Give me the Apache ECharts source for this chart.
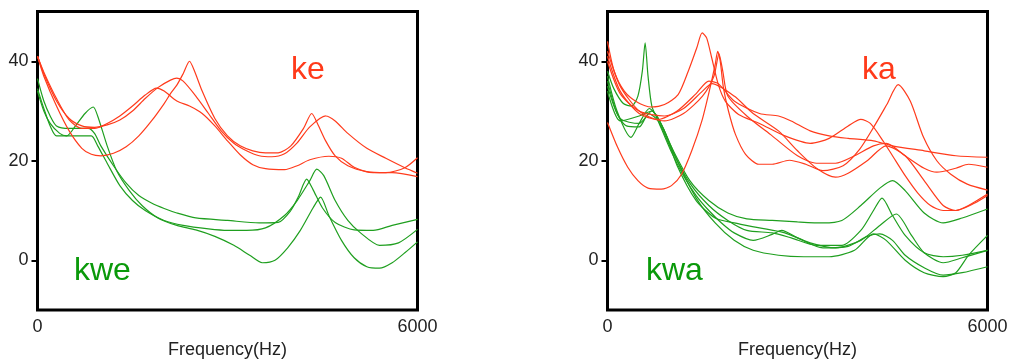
<!DOCTYPE html>
<html><head><meta charset="utf-8">
<script src="https://cdn.jsdelivr.net/npm/echarts@6/dist/echarts.min.js"></script>
<style>html,body{margin:0;padding:0;background:#fff}#c{width:1014px;height:362px}</style>
</head><body><div id="c"></div>
<script>
// Tick labels
const xTickValues = [0, 6000];
const yTickValues = [0, 20, 40];
const xAxisTitle = 'Frequency(Hz)';
const panelLabels = [['ke', 'kwe'], ['ka', 'kwa']];

// ---- left panel: ke (red) ----
const ke1 = [[0,41],[100,37],[300,31],[500,26],[700,22.5],[850,21.3],[1000,21],[1200,21.5],[1400,22.8],[1600,25],[1800,28],[2000,31.5],[2100,33.5],[2200,35.2],[2300,37.5],[2400,40],[2480,38],[2600,34],[2800,28.5],[3000,25],[3200,23],[3400,22],[3600,21.6],[3800,21.6],[4000,23],[4200,26.5],[4330,29.5],[4420,27.5],[4550,24],[4700,21],[4900,19],[5200,17.8],[5500,17.6],[5800,18.6],[6000,20.6]];
const ke2 = [[0,41],[100,37.5],[300,32],[500,28.5],[700,27],[900,26.7],[1100,27.2],[1300,28.2],[1500,30],[1700,32.5],[1900,34.7],[2100,36.2],[2200,36.6],[2300,36],[2500,33],[2700,29.5],[2900,26],[3100,23.5],[3300,22],[3500,21],[3700,20.8],[3900,21.4],[4100,23.6],[4300,26.8],[4550,29],[4700,28],[4900,25.5],[5200,22.5],[5500,20.5],[5800,18.6],[6000,17.5]];
const ke3 = [[0,41],[100,37.8],[300,32.5],[500,28.2],[700,26.5],[900,26.5],[1100,27.5],[1300,29],[1500,31],[1700,33.2],[1880,34.6],[2000,34],[2200,32],[2400,31],[2600,29.5],[2800,27],[3000,24],[3200,21.2],[3400,19.2],[3600,18.4],[3900,18.2],[4100,19],[4300,20.2],[4600,20.9],[4800,20.5],[5000,18.7],[5300,17.6],[5600,17.6],[6000,16.8]];
// ---- left panel: kwe (green) ----
const kwe1 = [[0,36.5],[100,32],[200,29],[300,27],[500,26.5],[800,26.5],[900,25.5],[1000,23],[1200,19],[1400,15.5],[1600,13],[1800,11.5],[2000,10.4],[2200,9.5],[2500,8.5],[3000,8],[3500,7.5],[3800,7.6],[4000,10],[4120,12.8],[4250,16.3],[4350,14.2],[4500,10.5],[4700,7.6],[5000,6.1],[5300,6],[5600,7],[6000,8.2]];
const kwe2 = [[0,34.5],[100,30.5],[200,27],[300,25],[600,25],[850,25],[950,23],[1100,19.5],[1300,15],[1500,12],[1700,10],[2000,8],[2300,7],[2700,6.3],[3000,6],[3300,6],[3600,6.5],[3900,9],[4100,12],[4300,16],[4410,18.3],[4520,17],[4700,12],[4900,8],[5100,5.5],[5400,3],[5700,3.5],[6000,6.2]];
const kwe3 = [[0,34],[100,30],[200,27.5],[350,25.5],[460,25],[600,27],[750,29.5],[880,30.8],[950,29],[1100,23],[1250,18],[1450,14],[1650,11],[1900,8.5],[2200,7],[2500,6.1],[2800,4.8],[3100,3],[3350,1],[3550,-0.5],[3750,0],[3950,2.5],[4150,6],[4350,10.5],[4470,12.7],[4600,9],[4800,4],[5000,0.5],[5200,-1.3],[5400,-1.6],[5600,-0.5],[5800,1.5],[6000,3.7]];

// ---- right panel: ka (red) ----
const ka1 = [[0,27.7],[160,22.7],[320,18.7],[480,16],[640,14.5],[850,14.3],[1010,15],[1170,17.3],[1330,22],[1490,28],[1620,34.7],[1700,39.3],[1740,42],[1780,40],[1830,34.7],[1910,30],[2020,25.3],[2180,21.3],[2390,19.3],[2600,19.3],[2870,20.1],[3130,19.3],[3400,18],[3720,19],[3980,22.3],[4200,26.7],[4410,31.3],[4590,35.3],[4780,32],[4990,24.7],[5200,20],[5420,17.3],[5680,15.3],[6000,14.1]];
const ka2 = [[0,44],[106,38],[265,34],[478,31.7],[690,30.8],[900,31.3],[1115,33.3],[1275,38],[1410,42.7],[1495,45.7],[1565,44.7],[1645,40.7],[1750,35.3],[1860,32],[2070,29.3],[2400,27.5],[2800,25],[3200,23.5],[3500,24.5],[3800,27],[4000,28.3],[4150,27.5],[4350,24],[4500,21],[4700,17],[4900,13.5],[5100,11],[5300,10],[5500,10],[5700,11],[6000,13.3]];
const ka3 = [[0,42],[200,35],[500,30],[800,28.3],[1100,30],[1400,33.5],[1600,36],[1750,35.5],[2000,32],[2400,29.5],[2700,29],[2900,28],[3200,26],[3500,25],[3800,24.5],[4200,24],[4500,23],[5000,22],[5500,21],[6000,20.7]];
const ka4 = [[0,41],[200,34],[500,29.5],[900,28],[1200,29.5],[1500,33],[1680,37],[1760,41.5],[1820,38],[1900,33],[2200,29],[2600,25],[3000,21],[3300,19.5],[3600,19.5],[3900,21],[4200,23],[4400,23.5],[4700,21],[5000,18.5],[5200,17.7],[5500,18.5],[5700,19.3],[6000,18.7]];
const ka5 = [[0,40],[200,33.5],[500,30],[900,29],[1200,30.5],[1500,34],[1650,35.5],[2000,33],[2300,29.5],[2700,26],[3000,22],[3300,18.5],[3600,16.7],[3800,17.5],[4100,20],[4400,23],[4700,21],[5000,16],[5300,11],[5500,10],[5800,11.5],[6000,13]];
// ---- right panel: kwa (green) ----
const kwa1 = [[0,38],[100,34.5],[250,31.5],[380,31],[480,33],[550,38],[594,43.7],[640,37],[700,31],[800,28],[1000,22],[1200,17],[1400,13],[1600,10],[1800,7.5],[2000,5.5],[2300,4],[2600,5.2],[2750,6],[3000,4.5],[3400,2.5],[3800,2.8],[4100,4.8],[4300,5.3],[4500,4],[4700,1],[5000,-1.5],[5300,-3],[5600,-2.5],[6000,-1.3]];
const kwa2 = [[0,37],[150,30],[370,24.7],[500,27.5],[660,30.5],[800,28.5],[1000,23],[1300,16],[1600,12],[1900,9.5],[2200,8.3],[2600,8],[3000,7.7],[3400,7.5],[3700,8],[4000,11],[4300,14.5],[4500,16],[4700,14],[5000,9.5],[5300,7.5],[5600,8.5],[6000,10.3]];
const kwa3 = [[0,36],[150,29.5],[300,27],[500,26.8],[650,29.5],[800,28],[1000,22.5],[1300,15.5],[1600,11],[1900,8],[2200,6],[2600,5.5],[2900,4.5],[3300,3],[3700,3],[4000,6],[4200,10],[4335,12.5],[4500,9],[4700,5],[5000,1.5],[5300,0.7],[5600,1],[6000,2]];
const kwa4 = [[0,35],[200,28.5],[500,27.5],[700,30],[900,26],[1100,20],[1400,12.5],[1700,7.5],[2000,4],[2300,2],[2700,1],[3100,0.7],[3500,0.7],[3900,2],[4200,5.3],[4400,4],[4700,0],[5000,-2.5],[5300,-3.3],[5500,-2.5],[5700,1],[6000,5]];
const kwa5 = [[0,34],[200,28],[500,29],[700,30],[900,26],[1100,19],[1400,12],[1700,8.5],[2000,7.5],[2400,6.5],[2800,5.5],[3200,3.5],[3600,2.5],[4000,4],[4300,7],[4560,9.3],[4800,5],[5000,1.5],[5300,-0.5],[5600,0.5],[6000,2]];

const RED = '#ff3b1c', GREEN = '#1f9f1f';
const RED_TXT = '#ff3a1a', GREEN_TXT = '#0a990a';

const panels = [
  {left: 37.5, red: [ke1, ke2, ke3], green: [kwe1, kwe2, kwe3]},
  {left: 607.5, red: [ka1, ka2, ka3, ka4, ka5], green: [kwa1, kwa2, kwa3, kwa4, kwa5]}
];

const font = 'Liberation Sans, Arial, sans-serif';
const grid = [], xAxis = [], yAxis = [], series = [];
panels.forEach((p, i) => {
  grid.push({left: p.left, top: 11.5, width: 380, height: 298.5, show: true,
    outerBoundsMode: 'none', containLabel: false,
    borderColor: '#000', borderWidth: 3, backgroundColor: '#fff'});
  xAxis.push({type: 'value', gridIndex: i, min: 0, max: 6000, interval: 6000,
    axisLine: {show: false}, splitLine: {show: false},
    axisTick: {show: true, length: 4, lineStyle: {color: '#000', width: 2}, customValues: xTickValues},
    axisLabel: {customValues: xTickValues, formatter: v => String(v), color: '#222', fontSize: 18, fontFamily: font, margin: 8},
    name: xAxisTitle, nameLocation: 'middle', nameGap: 30,
    nameTextStyle: {color: '#222', fontSize: 18, fontFamily: font}});
  yAxis.push({type: 'value', gridIndex: i, min: -10, max: 50, interval: 10,
    axisLine: {show: false}, splitLine: {show: false},
    axisTick: {show: true, length: 6, lineStyle: {color: '#000', width: 2}, customValues: yTickValues},
    axisLabel: {customValues: yTickValues, formatter: v => String(v), color: '#222', fontSize: 18, fontFamily: font, margin: 9}});
  const add = (arr, color) => arr.forEach(d => series.push({
    type: 'line', xAxisIndex: i, yAxisIndex: i, data: d, showSymbol: false, smooth: 0.25,
    lineStyle: {color, width: 1.2}, silent: true, animation: false, clip: true}));
  add(p.green, GREEN);
  add(p.red, RED);
});

const txt = (x, y, s, c) => ({type: 'text', left: x, top: y, z: 100,
  style: {text: s, fill: c, font: '32px ' + font}});

const chart = echarts.init(document.getElementById('c'), null, {renderer: 'canvas'});
chart.setOption({
  animation: false,
  grid, xAxis, yAxis, series,
  graphic: [
    txt(291, 54, panelLabels[0][0], RED_TXT),
    txt(74, 255, panelLabels[0][1], GREEN_TXT),
    txt(862, 54, panelLabels[1][0], RED_TXT),
    txt(646, 255, panelLabels[1][1], GREEN_TXT)
  ]
});
</script></body></html>
